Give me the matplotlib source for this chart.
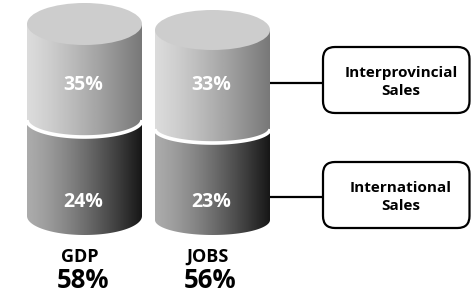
import numpy as np
import matplotlib
matplotlib.use("Agg")
import matplotlib.pyplot as plt
from matplotlib.path import Path
from matplotlib.patches import PathPatch, Ellipse, FancyBboxPatch

# data
categories = ["GDP", "JOBS"]
interprovincial = [35, 33]
international = [24, 23]
totals = [58, 56]
box_labels = ["Interprovincial\nSales", "International\nSales"]

# layout (pixels, y grows downward)
cx = [84.5, 212.5]
half_w = 57.5
top_y = [24, 30]
top_b = [21, 20]
sep_y = [120, 129]
sep_b = [17, 14]
bot_y = [216, 220]
bot_b = [19, 15]

plt.rcParams['font.family'] = ['Open Sans', 'DejaVu Sans']

fig = plt.figure(figsize=(4.71, 2.98), dpi=100)
ax = fig.add_axes([0, 0, 1, 1])
ax.axis("off")


def side_path(x0, x1, y_top, y_bot, b):
    # rectangle from y_top down to y_bot, closed by lower half of an ellipse
    t = np.linspace(np.pi, 0, 80)
    xs = (x0 + x1) / 2 + (x1 - x0) / 2 * np.cos(t)
    ys = y_bot + b * np.sin(t)
    verts = list(zip(xs, ys)) + [(x1, y_top), (x0, y_top), (xs[0], ys[0])]
    codes = [Path.MOVETO] + [Path.LINETO] * (len(verts) - 2) + [Path.CLOSEPOLY]
    return Path(verts, codes)


def gradient_fill(path, x0, x1, y0, y1, v0, dv, pw):
    f = np.linspace(0, 1, 256)
    v = v0 - dv * f ** pw
    img = np.tile(v, (2, 1))
    im = ax.imshow(img, cmap="gray", vmin=0, vmax=1, extent=[x0, x1, y1, y0],
                   aspect="auto", interpolation="bilinear", zorder=2)
    patch = PathPatch(path, facecolor="none", edgecolor="none")
    ax.add_patch(patch)
    im.set_clip_path(patch)


for i in range(len(categories)):
    x0, x1 = cx[i] - half_w, cx[i] + half_w
    # bottom segment (international)
    p = side_path(x0, x1, sep_y[i], bot_y[i], bot_b[i])
    gradient_fill(p, x0, x1, sep_y[i], bot_y[i] + bot_b[i] + 1, 0.67, 0.58, 1.3)
    # top segment (interprovincial)
    p = side_path(x0, x1, top_y[i], sep_y[i], sep_b[i])
    gradient_fill(p, x0, x1, top_y[i], sep_y[i] + sep_b[i] + 1, 0.86, 0.39, 1.2)
    # white separator
    t = np.linspace(np.pi, 0, 80)
    ax.plot(cx[i] + half_w * np.cos(t), sep_y[i] + sep_b[i] * np.sin(t),
            color="white", lw=2.6, zorder=4, solid_capstyle="butt")
    # top cap
    ax.add_patch(Ellipse((cx[i], top_y[i]), 2 * half_w, 2 * top_b[i],
                         facecolor="#cdcdcd", edgecolor="none", zorder=5))

    ax.text(cx[i] - 1.5, 85, f"{interprovincial[i]}%", color="white",
            fontsize=14, fontweight="bold", ha="center", va="center", zorder=6)
    ax.text(cx[i] - 1.5, 202, f"{international[i]}%", color="white",
            fontsize=14, fontweight="bold", ha="center", va="center", zorder=6)
    ax.text(cx[i] - 5, 257, categories[i], color="black",
            fontsize=13, fontweight="bold", ha="center", va="center")
    ax.text(cx[i] - 2, 281, f"{totals[i]}%", color="black",
            fontsize=18.5, fontweight="bold", ha="center", va="center")

# connectors and boxes
line_y = [83, 197]
box_top = [47, 162]
box_h = 66
for j in range(2):
    ax.plot([cx[1] + half_w, 323], [line_y[j], line_y[j]], color="black", lw=1.6, zorder=1)
    ax.add_patch(FancyBboxPatch((323, box_top[j]), 146.5, box_h,
                                boxstyle="round,pad=0,rounding_size=12",
                                facecolor="white", edgecolor="black", lw=1.6, zorder=3))
    ax.text(401, box_top[j] + box_h / 2 + 2, box_labels[j], ha="center", va="center",
            fontsize=11, fontweight="bold", linespacing=1.3, zorder=4)

ax.set_xlim(0, 471)
ax.set_ylim(298, 0)
fig.savefig("out.png", dpi=100)
